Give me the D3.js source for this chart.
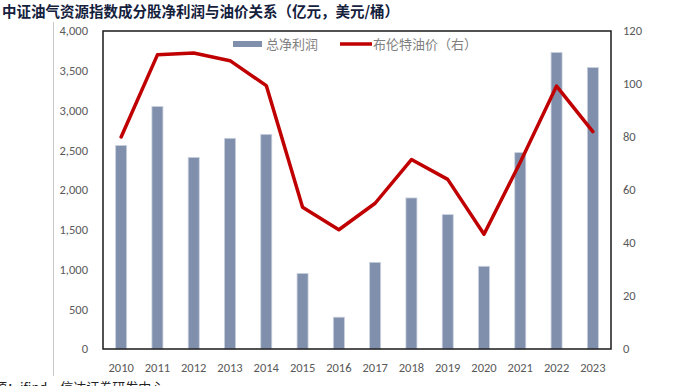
<!DOCTYPE html>
<html>
<head>
<meta charset="utf-8">
<script src="https://cdn.jsdelivr.net/npm/d3@7"></script>
<style>
  html, body { margin: 0; padding: 0; background: #fff; overflow: hidden; }
  svg { display: block; }
</style>
</head>
<body>
<svg id="chart"></svg>
<script>
// Data
const years = ["2010", "2011", "2012", "2013", "2014", "2015", "2016", "2017", "2018", "2019", "2020", "2021", "2022", "2023"];
const netProfit = [2560, 3050, 2410, 2650, 2700, 950, 400, 1090, 1900, 1690, 1040, 2470, 3730, 3540];
const brentPrice = [80, 111, 111.7, 108.8, 99.4, 53.5, 45, 55, 71.5, 64, 43.3, 70.5, 99.2, 82];
const leftTicks = [0, 500, 1000, 1500, 2000, 2500, 3000, 3500, 4000];
const rightTicks = [0, 20, 40, 60, 80, 100, 120];

(function () {
    const width = 680;
    const height = 386;
    const plot = { left: 103, right: 611, top: 31, bottom: 349 };

    const svg = d3.select("#chart")
        .attr("width", width)
        .attr("height", height);

    const latin = "Calibri, Carlito, 'Liberation Sans', Arial, sans-serif";
    const cjk = "'Noto Sans CJK SC', sans-serif";

    // Title
    svg.append("text")
        .attr("x", 2)
        .attr("y", 17)
        .attr("font-family", cjk)
        .attr("font-weight", "bold")
        .attr("font-size", "14.5px")
        .attr("fill", "#14213d")
        .text("中证油气资源指数成分股净利润与油价关系（亿元，美元/桶）");

    // Thin gray page line on the left
    svg.append("line")
        .attr("x1", 53.5).attr("x2", 53.5)
        .attr("y1", 22).attr("y2", 376)
        .attr("stroke", "#c8c8c8")
        .attr("stroke-width", 1);

    // Scales
    const x = d3.scaleBand()
        .domain(years)
        .range([plot.left, plot.right])
        .paddingInner(0)
        .paddingOuter(0);

    const yLeft = d3.scaleLinear()
        .domain([0, 4000])
        .range([plot.bottom, plot.top]);

    const yRight = d3.scaleLinear()
        .domain([0, 120])
        .range([plot.bottom, plot.top]);

    const barWidth = 11;

    // Bars
    svg.append("g")
        .selectAll("rect")
        .data(years)
        .join("rect")
        .attr("x", d => x(d) + x.bandwidth() / 2 - barWidth / 2)
        .attr("y", (d, i) => yLeft(netProfit[i]))
        .attr("width", barWidth)
        .attr("height", (d, i) => plot.bottom - yLeft(netProfit[i]))
        .attr("fill", "#7f8fac")
        .attr("stroke", "#c9d0de")
        .attr("stroke-width", 0.8);

    // Brent line
    const line = d3.line()
        .x((d, i) => x(years[i]) + x.bandwidth() / 2)
        .y(d => yRight(d));

    svg.append("path")
        .datum(brentPrice)
        .attr("d", line)
        .attr("fill", "none")
        .attr("stroke", "#c00000")
        .attr("stroke-width", 3.5)
        .attr("stroke-linejoin", "round")
        .attr("stroke-linecap", "round");

    // Frame
    svg.append("rect")
        .attr("x", plot.left)
        .attr("y", plot.top)
        .attr("width", plot.right - plot.left)
        .attr("height", plot.bottom - plot.top)
        .attr("fill", "none")
        .attr("stroke", "#1a1a1a")
        .attr("stroke-width", 1.5);

    // Left axis labels
    svg.append("g")
        .selectAll("text")
        .data(leftTicks)
        .join("text")
        .attr("x", 88)
        .attr("y", d => yLeft(d))
        .attr("dy", "0.35em")
        .attr("text-anchor", "end")
        .attr("font-family", latin)
        .attr("font-size", "12.5px")
        .attr("fill", "#595959")
        .text(d => d3.format(",")(d));

    // Right axis labels
    svg.append("g")
        .selectAll("text")
        .data(rightTicks)
        .join("text")
        .attr("x", 623)
        .attr("y", d => yRight(d))
        .attr("dy", "0.35em")
        .attr("text-anchor", "start")
        .attr("font-family", latin)
        .attr("font-size", "12.5px")
        .attr("fill", "#595959")
        .text(d => d);

    // X labels
    svg.append("g")
        .selectAll("text")
        .data(years)
        .join("text")
        .attr("x", d => x(d) + x.bandwidth() / 2)
        .attr("y", 368)
        .attr("dy", "0.35em")
        .attr("text-anchor", "middle")
        .attr("font-family", latin)
        .attr("font-size", "12.5px")
        .attr("fill", "#595959")
        .text(d => d);

    // Legend
    const legend = svg.append("g").attr("font-family", cjk).attr("font-size", "13px").attr("fill", "#7f7f7f");
    legend.append("rect")
        .attr("x", 233).attr("y", 41)
        .attr("width", 29).attr("height", 6)
        .attr("fill", "#7f8fac");
    legend.append("text")
        .attr("x", 266).attr("y", 44).attr("dy", "0.35em")
        .text("总净利润");
    legend.append("line")
        .attr("x1", 340).attr("x2", 372)
        .attr("y1", 44).attr("y2", 44)
        .attr("stroke", "#c00000")
        .attr("stroke-width", 3.5);
    legend.append("text")
        .attr("x", 373).attr("y", 44).attr("dy", "0.35em")
        .text("布伦特油价（右）");

    // Source note, cut by the bottom edge
    svg.append("text")
        .attr("x", -6)
        .attr("y", 392)
        .attr("font-family", cjk)
        .attr("font-size", "13px")
        .attr("fill", "#222")
        .text("源：ifind，信达证券研发中心");
})();
</script>
</body>
</html>
